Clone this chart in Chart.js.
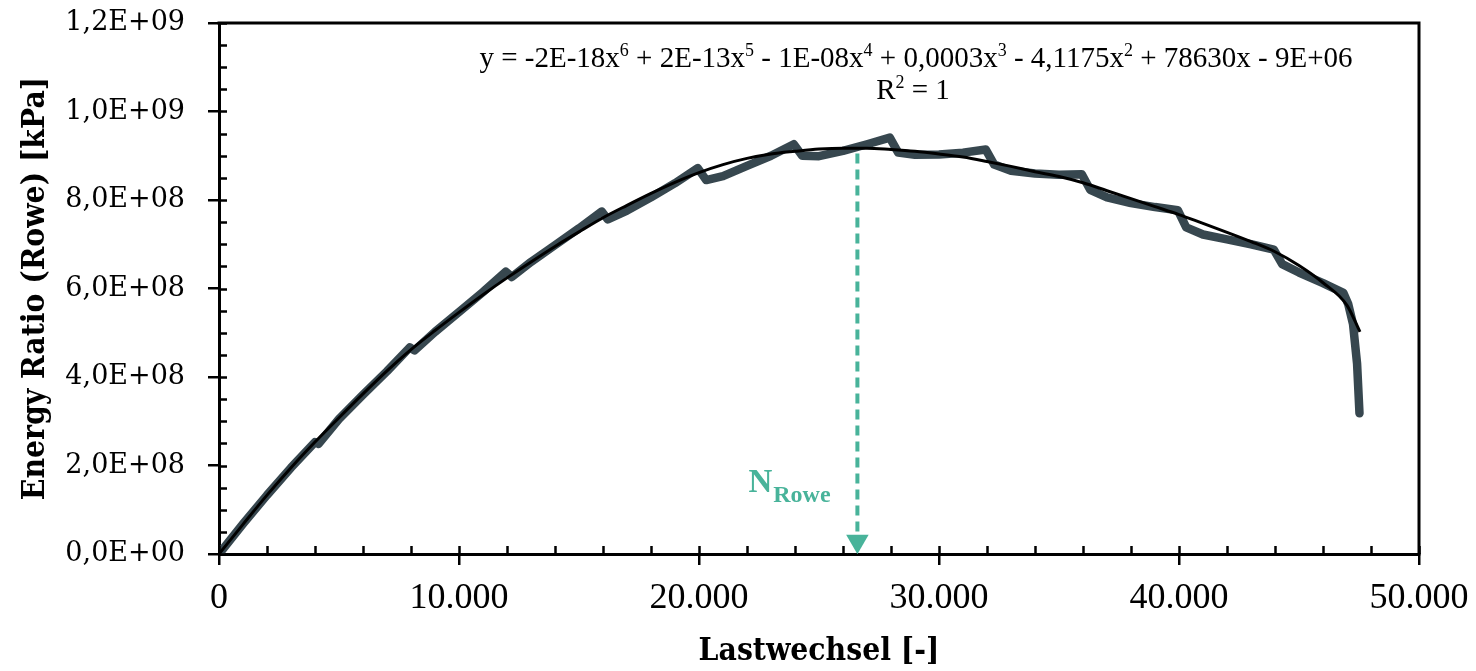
<!DOCTYPE html>
<html>
<head>
<meta charset="utf-8">
<script src="https://cdn.jsdelivr.net/npm/chart.js@4.4.1/dist/chart.umd.min.js"></script>
<style>
html,body{margin:0;padding:0;background:#ffffff;}
#wrap{width:1476px;height:671px;position:relative;}
</style>
</head>
<body>
<div id="wrap"><canvas id="c" width="1476" height="671"></canvas></div>
<script>
// ---------------- data ----------------
const cycles = [0,1000,2000,3000,4000,4150,5000,6000,7000,7950,8150,9000,10000,11000,11950,12200,13000,14000,15000,15950,16200,17000,18000,19000,19950,20300,21000,22000,23000,23950,24300,25000,26000,27000,27950,28300,29000,30000,31000,31950,32300,33000,34000,35000,35950,36300,37000,38000,39000,39950,40300,41000,42000,43000,43950,44300,45000,46000,46850,47050,47250,47420,47520];
const energyRatio = [0,0.68e8,1.33e8,1.95e8,2.53e8,2.49e8,3.05e8,3.60e8,4.13e8,4.67e8,4.60e8,5.02e8,5.47e8,5.92e8,6.38e8,6.26e8,6.60e8,6.98e8,7.36e8,7.74e8,7.56e8,7.76e8,8.06e8,8.38e8,8.72e8,8.45e8,8.54e8,8.77e8,9.00e8,9.26e8,9.00e8,8.99e8,9.11e8,9.26e8,9.41e8,9.07e8,9.02e8,9.03e8,9.07e8,9.14e8,8.80e8,8.66e8,8.60e8,8.57e8,8.58e8,8.23e8,8.06e8,7.93e8,7.84e8,7.77e8,7.38e8,7.22e8,7.11e8,7.00e8,6.88e8,6.55e8,6.36e8,6.12e8,5.90e8,5.65e8,5.20e8,4.30e8,3.18e8];

const trendCycles = [0,1000,2000,3000,4000,5000,6000,7000,8000,9000,10000,11000,12000,13000,14000,15000,16000,17000,18000,19000,20000,21000,22000,23000,24000,25000,26000,27000,28000,29000,30000,31000,32000,33000,34000,35000,36000,37000,38000,39000,40000,41000,42000,43000,44000,45000,46000,47000,47540];
const trendValues = [0,0.67e8,1.33e8,1.95e8,2.53e8,3.08e8,3.62e8,4.14e8,4.62e8,5.05e8,5.46e8,5.86e8,6.24e8,6.60e8,6.95e8,7.28e8,7.60e8,7.88e8,8.15e8,8.40e8,8.62e8,8.80e8,8.94e8,9.04e8,9.10e8,9.15e8,9.17e8,9.17e8,9.14e8,9.10e8,9.04e8,8.97e8,8.87e8,8.76e8,8.64e8,8.53e8,8.39e8,8.21e8,8.03e8,7.85e8,7.67e8,7.47e8,7.27e8,7.06e8,6.83e8,6.52e8,6.13e8,5.62e8,5.02e8];

// N_Rowe marker (cycle, top and bottom of the dashed arrow)
const nRoweCycle = [26600, 26600];
const nRoweValue = [9.05e8, 0.29e8];

const xTickLabels = ['0','10.000','20.000','30.000','40.000','50.000'];
const yTickLabels = ['0,0E+00','2,0E+08','4,0E+08','6,0E+08','8,0E+08','1,0E+09','1,2E+09'];
const xMinorStep = 2000;
const yMinorStep = 0.5e8;

const xTitle = 'Lastwechsel [-]';
const yTitle = 'Energy Ratio (Rowe) [kPa]';
const equationParts = [['y = -2E-18x',0],['6',1],[' + 2E-13x',0],['5',1],[' - 1E-08x',0],['4',1],[' + 0,0003x',0],['3',1],[' - 4,1175x',0],['2',1],[' + 78630x - 9E+06',0]];
const r2Parts = [['R',0],['2',1],[' = 1',0]];
const nRoweLabel = ['N','Rowe'];

// ---------------- styles ----------------
const SLATE = '#37474F';
const TEAL = '#48B39A';

function hasFont(name){
  const c = document.createElement('canvas').getContext('2d');
  const s = 'Lastwechsel Energy 0123 WMmil';
  c.font = 'bold 40px monospace'; const a = c.measureText(s).width;
  c.font = 'bold 40px "' + name + '", monospace'; const b = c.measureText(s).width;
  return Math.abs(a-b) > 0.5;
}
const titleFamily = hasFont('DejaVu Serif Condensed') ? '"DejaVu Serif Condensed"' : '"Liberation Serif"';
const titleSize = (function(){
  const c = document.createElement('canvas').getContext('2d');
  c.font = 'bold 40px ' + titleFamily;
  return Math.round(40 * 241 / c.measureText(xTitle).width * 10) / 10;
})();

function drawRich(ctx, parts, x0, baseline, size, family, weight, align){
  const sup = size * 0.62;
  const ws = parts.map(p => { ctx.font = weight + ' ' + (p[1] ? sup : size) + 'px ' + family; return ctx.measureText(p[0]).width; });
  const total = ws.reduce((a,b)=>a+b,0);
  let x = align === 'center' ? x0 - total/2 : x0;
  ctx.textAlign = 'left';
  ctx.textBaseline = 'alphabetic';
  parts.forEach((p,i) => {
    ctx.font = weight + ' ' + (p[1] ? sup : size) + 'px ' + family;
    ctx.fillText(p[0], x, p[1] ? baseline - size*0.38 : baseline);
    x += ws[i];
  });
}

const decor = {
  id: 'decor',
  afterDraw(chart){
    const ctx = chart.ctx;
    const xs = chart.scales.x, ys = chart.scales.y;
    const a = chart.chartArea;
    ctx.save();
    // frame (top + right)
    ctx.strokeStyle = '#000'; ctx.lineWidth = 3; ctx.lineCap = 'square';
    ctx.beginPath();
    ctx.moveTo(a.left, a.top); ctx.lineTo(a.right, a.top); ctx.lineTo(a.right, a.bottom);
    ctx.stroke();
    // inner ticks
    ctx.lineWidth = 2.5; ctx.lineCap = 'butt';
    ctx.beginPath();
    for (let v = xs.min; v <= xs.max + 1e-6; v += xMinorStep){
      const px = Math.round(xs.getPixelForValue(v)) + 0.5;
      ctx.moveTo(px, a.bottom); ctx.lineTo(px, a.bottom - 8);
    }
    for (let v = ys.min; v <= ys.max + 1; v += yMinorStep){
      const py = Math.round(ys.getPixelForValue(v)) + 0.5;
      ctx.moveTo(a.left, py); ctx.lineTo(a.left + 8, py);
    }
    ctx.stroke();
    // equation + R²
    ctx.fillStyle = '#000';
    drawRich(ctx, equationParts, 916, 67, 29, '"Liberation Serif"', 'normal', 'center');
    drawRich(ctx, r2Parts, 913, 99, 29, '"Liberation Serif"', 'normal', 'center');
    // N_Rowe label
    ctx.fillStyle = TEAL;
    const lx = xs.getPixelForValue(nRoweCycle[0]) - 109;
    ctx.font = 'bold 33px "Liberation Serif"';
    ctx.textAlign = 'left'; ctx.textBaseline = 'alphabetic';
    ctx.fillText(nRoweLabel[0], lx, 492);
    const nw = ctx.measureText(nRoweLabel[0]).width;
    ctx.font = 'bold 24px "Liberation Serif"';
    ctx.fillText(nRoweLabel[1], lx + nw + 1, 502);
    ctx.restore();
  }
};

const ctx = document.getElementById('c').getContext('2d');
new Chart(ctx, {
  type: 'scatter',
  data: {
    datasets: [
      {
        label: 'Trend',
        data: trendCycles.map((x,i)=>({x, y: trendValues[i]})),
        showLine: true, borderColor: '#000000', borderWidth: 3,
        pointRadius: 0, cubicInterpolationMode: 'monotone', fill: false
      },
      {
        label: 'Energy Ratio',
        data: cycles.map((x,i)=>({x, y: energyRatio[i]})),
        showLine: true, borderColor: SLATE, borderWidth: 8.5,
        borderJoinStyle: 'round', borderCapStyle: 'round',
        pointRadius: 0, tension: 0, fill: false
      },
      {
        label: 'N_Rowe',
        data: nRoweCycle.map((x,i)=>({x, y: nRoweValue[i]})),
        showLine: true, borderColor: TEAL, borderWidth: 4, borderDash: [10,6],
        pointRadius: [0, 13], pointStyle: 'triangle', rotation: 180,
        pointBackgroundColor: TEAL, pointBorderWidth: 0, pointBorderColor: TEAL, fill: false
      }
    ]
  },
  options: {
    responsive: false,
    animation: false,
    events: [],
    layout: { padding: { top: 23, right: 57, left: 0, bottom: 0 } },
    plugins: { legend: { display: false }, tooltip: { enabled: false } },
    scales: {
      x: {
        type: 'linear', min: 0, max: 50000,
        afterFit: s => { s.height = 117; s.paddingLeft = 0; s.paddingRight = 0; },
        ticks: {
          stepSize: 10000, color: '#000', padding: 12,
          font: { family: '"Liberation Serif"', size: 36 },
          maxRotation: 0, autoSkip: false,
          callback: (v, i) => xTickLabels[i]
        },
        grid: { drawOnChartArea: false, drawTicks: true, tickLength: 11, color: '#000', lineWidth: 2.5 },
        border: { display: true, color: '#000', width: 3 },
        title: {
          display: true, text: xTitle, color: '#000',
          font: { family: titleFamily, size: titleSize, weight: 'bold' },
          padding: { top: 0, bottom: 19 - 0.6*titleSize }
        }
      },
      y: {
        type: 'linear', min: 0, max: 1.2e9,
        afterFit: s => { s.width = 219; s.paddingTop = 0; s.paddingBottom = 0; },
        ticks: {
          stepSize: 2e8, color: '#000', padding: 23,
          font: { family: '"DejaVu Serif"', size: 27 },
          autoSkip: false,
          callback: (v, i) => yTickLabels[i]
        },
        grid: { drawOnChartArea: false, drawTicks: true, tickLength: 11, color: '#000', lineWidth: 2.5 },
        border: { display: true, color: '#000', width: 3 },
        title: {
          display: true, text: yTitle, color: '#000',
          font: { family: titleFamily, size: titleSize, weight: 'bold' },
          padding: { top: 36 - 0.6*titleSize, bottom: 0 }
        }
      }
    }
  },
  plugins: [decor]
});
</script>
</body>
</html>
